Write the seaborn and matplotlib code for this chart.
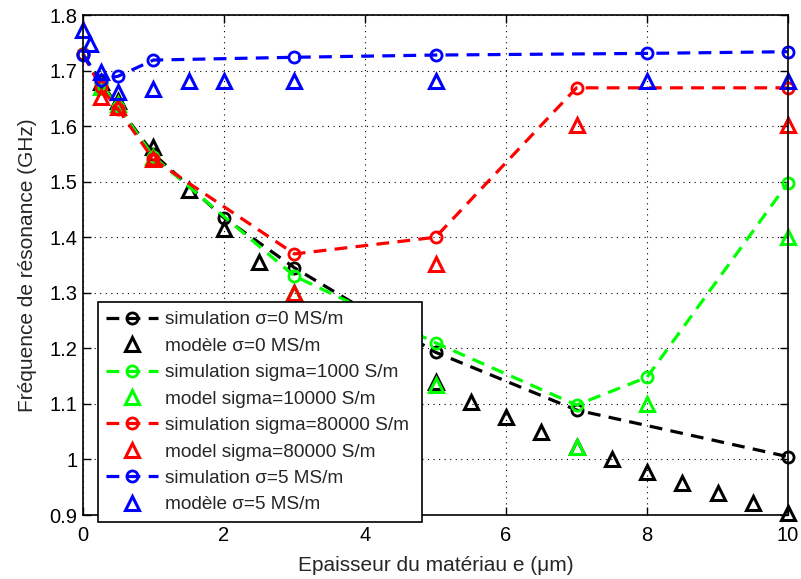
import numpy as np
import pandas as pd
import matplotlib
matplotlib.use("Agg")
import matplotlib.pyplot as plt
import seaborn as sns
from matplotlib.ticker import FuncFormatter

# simulation points (circles, dashed)
sim_x_black = [0, 0.25, 0.5, 1, 2, 3, 5, 7, 10]
sim_y_black = [1.73, 1.68, 1.635, 1.55, 1.435, 1.345, 1.193, 1.089, 1.005]
sim_x_green = [0, 0.25, 0.5, 1, 3, 5, 7, 8, 10]
sim_y_green = [1.73, 1.675, 1.635, 1.545, 1.33, 1.21, 1.098, 1.148, 1.498]
sim_x_red = [0, 0.25, 0.5, 1, 3, 5, 7, 10]
sim_y_red = [1.73, 1.67, 1.63, 1.54, 1.37, 1.40, 1.669, 1.669]
sim_x_blue = [0, 0.25, 0.5, 1, 3, 5, 8, 10]
sim_y_blue = [1.728, 1.683, 1.69, 1.719, 1.724, 1.728, 1.731, 1.734]

# model points (triangles)
mod_x_black = [0.25, 0.5, 1, 1.5, 2, 2.5, 3, 3.5, 4, 4.5, 5, 5.5, 6, 6.5,
               7, 7.5, 8, 8.5, 9, 9.5, 10]
mod_y_black = [1.68, 1.645, 1.562, 1.485, 1.415, 1.355, 1.30, 1.26, 1.22,
               1.18, 1.14, 1.104, 1.077, 1.05, 1.022, 1.0, 0.978, 0.958,
               0.94, 0.921, 0.903]
mod_x_green = [0.25, 0.5, 1, 3, 5, 7, 8, 10]
mod_y_green = [1.67, 1.64, 1.545, 1.30, 1.134, 1.022, 1.10, 1.40]
mod_x_red = [0.25, 0.5, 1, 3, 5, 7, 10]
mod_y_red = [1.652, 1.635, 1.54, 1.30, 1.352, 1.602, 1.602]
mod_x_blue = [0, 0.1, 0.25, 0.5, 1, 1.5, 2, 3, 5, 8, 10]
mod_y_blue = [1.773, 1.748, 1.697, 1.662, 1.666, 1.681, 1.681, 1.681,
              1.681, 1.681, 1.681]

labels = [
    "simulation σ=0 MS/m", "modèle σ=0 MS/m",
    "simulation sigma=1000 S/m", "model sigma=10000 S/m",
    "simulation sigma=80000 S/m", "model sigma=80000 S/m",
    "simulation σ=5 MS/m", "modèle σ=5 MS/m",
]

series = [
    ("black", sim_x_black, sim_y_black, mod_x_black, mod_y_black),
    ((0, 1, 0), sim_x_green, sim_y_green, mod_x_green, mod_y_green),
    ("red", sim_x_red, sim_y_red, mod_x_red, mod_y_red),
    ("blue", sim_x_blue, sim_y_blue, mod_x_blue, mod_y_blue),
]

sns.set_style("ticks")
plt.rcParams["font.family"] = ["Liberation Sans", "DejaVu Sans"]

fig = plt.figure(figsize=(8.01, 5.79), dpi=100)
ax = fig.add_axes([0.1036, 0.1105, 0.8802, 0.8635])

for i, (col, sx, sy, mx, my) in enumerate(series):
    sdf = pd.DataFrame({"x": sx, "y": sy})
    mdf = pd.DataFrame({"x": mx, "y": my})
    sns.lineplot(data=sdf, x="x", y="y", ax=ax, color=col, sort=False,
                 estimator=None, linewidth=2.3, linestyle="--",
                 dashes=False, marker="o", markersize=8,
                 markerfacecolor="none", markeredgecolor=col,
                 markeredgewidth=2, label=labels[2 * i], clip_on=False)
    ax.lines[-1].set_dashes((4, 2.6))
    sns.lineplot(data=mdf, x="x", y="y", ax=ax, color=col, sort=False,
                 estimator=None, linestyle="", marker="^", markersize=10,
                 markerfacecolor="none", markeredgecolor=col,
                 markeredgewidth=2.2, label=labels[2 * i + 1], clip_on=False)

ax.set_xlim(0, 10)
ax.set_ylim(0.9, 1.8)
ax.set_xticks(np.arange(0, 11, 2))
ax.set_yticks(np.round(np.arange(0.9, 1.81, 0.1), 1))
ax.yaxis.set_major_formatter(FuncFormatter(lambda v, p: f"{v:g}"))
ax.grid(True, color="black", linestyle=(0, (1, 4)), linewidth=0.8)
ax.tick_params(direction="in", top=True, right=True, length=6,
               width=1, labelsize=14.5, colors="black")
ax.tick_params(axis="x", pad=8)
ax.tick_params(axis="y", pad=4)
for s in ax.spines.values():
    s.set_linewidth(1.2)
    s.set_color("black")

ax.set_xlabel("Epaisseur du matériau e (μm)", fontsize=15, labelpad=8)
ax.set_ylabel("Fréquence de résonance (GHz)", fontsize=15, labelpad=9)

leg = ax.legend(loc="lower left", bbox_to_anchor=(0.021, -0.014, 0.46, 0.44),
                mode="expand", fontsize=13.7, frameon=True, fancybox=False,
                framealpha=1, edgecolor="black", handlelength=2.7,
                borderaxespad=0, labelspacing=0.48, handletextpad=0.4,
                borderpad=0.45)
leg.get_frame().set_linewidth(1.2)
leg.set_zorder(10)

fig.savefig("out.png", dpi=100)
